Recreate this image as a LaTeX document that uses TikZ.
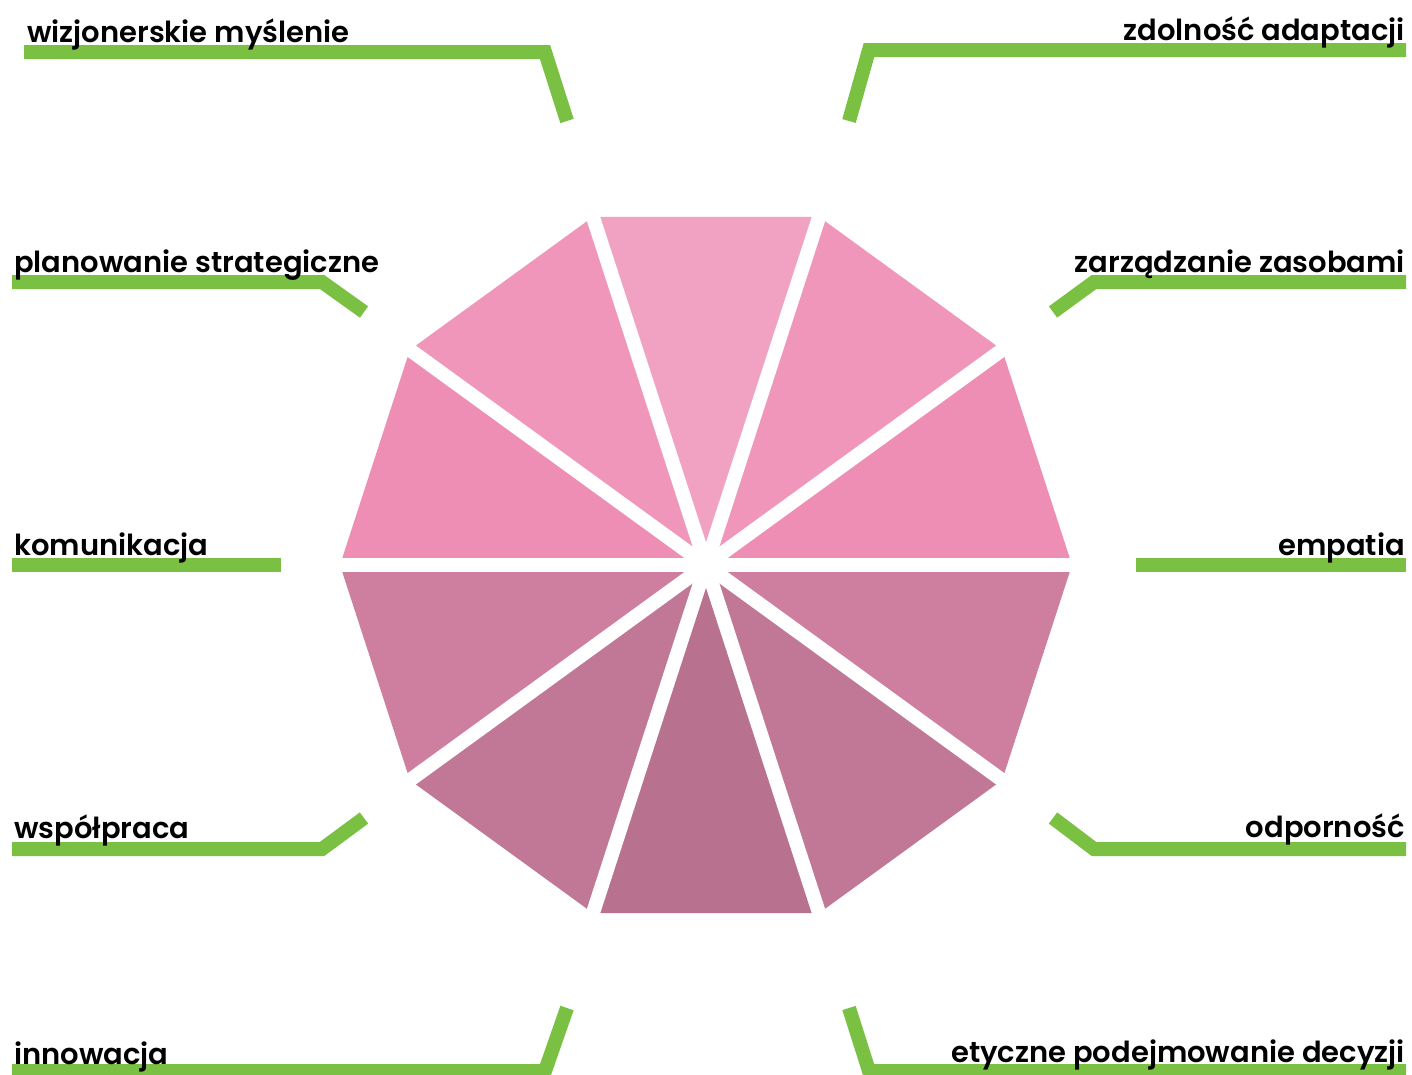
\documentclass[tikz,border=0pt]{standalone}
\usepackage{fontspec}
\setmainfont{Poppins}[UprightFont=* SemiBold]
\usepackage{tikz}
\usetikzlibrary{positioning}

\definecolor{pkA}{HTML}{EE8EB4}
\definecolor{pkB}{HTML}{F096BA}
\definecolor{pkC}{HTML}{F1A1C1}
\definecolor{mvA}{HTML}{CE7F9F}
\definecolor{mvB}{HTML}{C07896}
\definecolor{mvC}{HTML}{B8718E}
\definecolor{leaf}{HTML}{7AC143}

\tikzset{
  lbl/.style={font=\fontsize{29}{31}\selectfont, inner sep=0pt},
  lblL/.style={lbl, anchor=base west},
  lblR/.style={lbl, anchor=base east},
  bar/.style={draw=leaf, line width=14pt, miter limit=10}
}

\begin{document}
\begin{tikzpicture}[x=1pt,y=-1pt]
\useasboundingbox (0,0) rectangle (1412,1074);
\coordinate (ctr) at (706,565);
% wedges of the decagon
\foreach \a/\col in {0/pkA,36/pkB,72/pkC,108/pkB,144/pkA,180/mvA,216/mvB,252/mvC,288/mvB,324/mvA}
  \fill[\col] (ctr) -- ({706+366*cos(\a)},{565-366*sin(\a)}) -- ({706+366*cos(\a+36)},{565-366*sin(\a+36)}) -- cycle;
% white gaps
\foreach \a in {0,36,...,324}
  \draw[white, line width=14pt] (ctr) -- ({706+380*cos(\a)},{565-380*sin(\a)});

% green leader lines
\draw[bar] (24,52) -- (545,52) -- (567,121);
\draw[bar] (1406,50) -- (869,50) -- (849,121);
\draw[bar] (12,282) -- (322,282) -- (364,312);
\draw[bar] (1406,282) -- (1094,282) -- (1053,312);
\draw[bar] (12,565) -- (281,565);
\draw[bar] (1136,565) -- (1406,565);
\draw[bar] (12,849) -- (322,849) -- (364,818);
\draw[bar] (1406,849) -- (1094,849) -- (1053,818);
\draw[bar] (12,1071) -- (545,1071) -- (567,1008);
\draw[bar] (1406,1071) -- (869,1071) -- (849,1008);

% labels
\node[lblL] (wiz) at (27,42) {wizjonerskie myślenie};
\node[lblR] (zdo) at (1405,40) {zdolność adaptacji};
\node[lblL] (pla) at (14,272) {planowanie strategiczne};
\node[lblR] (zar) at (1405,272) {zarządzanie zasobami};
\node[lblL] (kom) at (14,555) {komunikacja};
\node[lblR] (emp) at (1405,555) {empatia};
\node[lblL] (wsp) at (14,838) {współpraca};
\node[lblR] (odp) at (1405,837) {odporność};
\node[lblL] (inn) at (14,1064) {innowacja};
\node[lblR] (ety) at (1405,1062) {etyczne podejmowanie decyzji};
\end{tikzpicture}
\end{document}
